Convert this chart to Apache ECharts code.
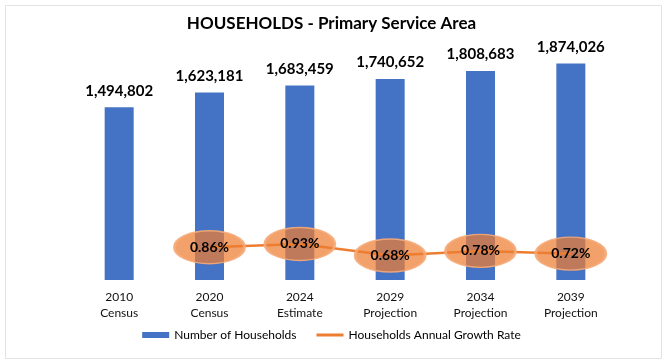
<!DOCTYPE html>
<html>
<head>
<meta charset="utf-8">
<script src="https://cdn.jsdelivr.net/npm/echarts@6/dist/echarts.min.js"></script>
<style>
  html, body { margin: 0; padding: 0; background: #fff; }
  #chart { width: 663px; height: 360px; }
</style>
</head>
<body>
<div id="chart"></div>
<script>
const categories = ['2010\nCensus', '2020\nCensus', '2024\nEstimate', '2029\nProjection', '2034\nProjection', '2039\nProjection'];
const households = [1494802, 1623181, 1683459, 1740652, 1808683, 1874026];
const growthRate = [null, 0.86, 0.93, 0.68, 0.78, 0.72];
const titleText = 'HOUSEHOLDS - Primary Service Area';
const seriesNames = ['Number of Households', 'Households Annual Growth Rate'];

const FONT = 'Lato';
const chart = echarts.init(document.getElementById('chart'), null, { renderer: 'canvas' });
chart.setOption({
  backgroundColor: '#ffffff',
  animation: false,
  textStyle: { fontFamily: FONT },
  title: {
    text: titleText,
    left: 'center',
    top: 10,
    textStyle: { fontFamily: FONT, fontSize: 17, fontWeight: 'bold', color: '#000' }
  },
  graphic: [{
    type: 'rect', left: 3, top: 3, z: -1,
    shape: { width: 656, height: 353 },
    style: { fill: 'none', stroke: '#e2e2e2', lineWidth: 1 }
  }],
  legend: {
    bottom: 14,
    left: 'center',
    itemGap: 20,
    itemWidth: 27,
    itemHeight: 6,
    symbolKeepAspect: true,
    textStyle: { fontFamily: FONT, fontSize: 12, color: '#000' },
    data: [
      { name: seriesNames[0], icon: 'rect' },
      { name: seriesNames[1], icon: 'path://M0,0L27,0L27,3L0,3Z', itemStyle: { color: '#ED7D31', borderWidth: 0 } }
    ]
  },
  grid: { left: 74, right: 47, top: 49, bottom: 80 },
  xAxis: {
    type: 'category',
    data: categories,
    axisLine: { show: false },
    axisTick: { show: false },
    axisLabel: { color: '#111', fontSize: 12, lineHeight: 16, margin: 9, fontFamily: FONT, interval: 0 }
  },
  yAxis: [
    { type: 'value', min: 0, max: 2000000, show: false, splitLine: { show: false } },
    { type: 'value', min: 0.15, max: 5.15, show: false, splitLine: { show: false } }
  ],
  series: [
    {
      name: seriesNames[0],
      type: 'bar',
      data: households,
      barWidth: 29,
      itemStyle: { color: '#4472C4' },
      label: {
        show: true, position: 'top', distance: 9,
        fontFamily: FONT, fontSize: 15, fontWeight: 'bold', color: '#000',
        formatter: p => p.value.toLocaleString('en-US')
      }
    },
    {
      name: seriesNames[1],
      type: 'line',
      yAxisIndex: 1,
      data: growthRate,
      lineStyle: { color: '#ED7D31', width: 2.5 },
      symbol: 'circle',
      symbolSize: [70, 33],
      itemStyle: { color: 'rgba(237,125,49,0.72)', borderColor: 'rgba(245,170,120,0.9)', borderWidth: 2 },
      label: {
        show: true, position: 'inside',
        fontFamily: FONT, fontSize: 14, fontWeight: 'bold', color: '#000',
        formatter: p => p.value.toFixed(2) + '%'
      },
      z: 3
    }
  ]
});
</script>
</body>
</html>
